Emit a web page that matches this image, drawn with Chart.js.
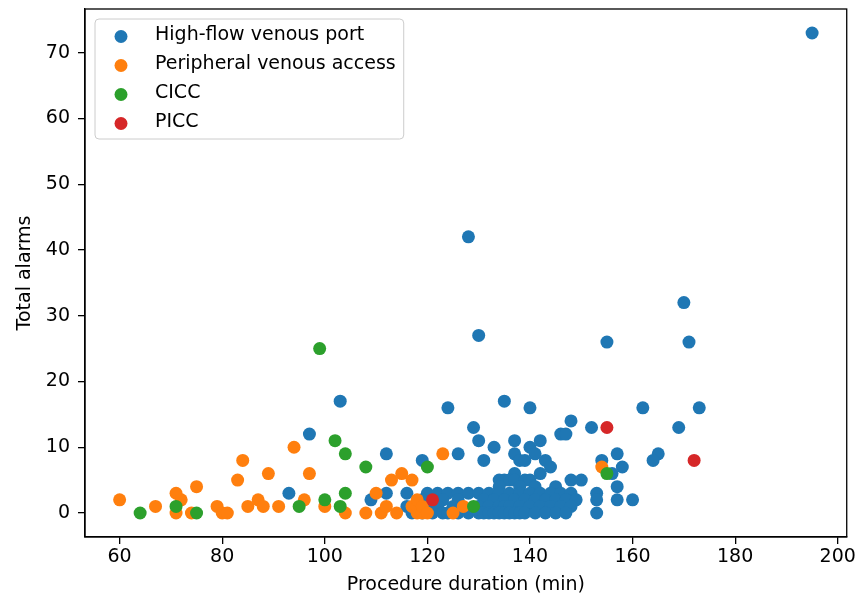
<!DOCTYPE html>
<html>
<head>
<meta charset="utf-8">
<script src="https://cdn.jsdelivr.net/npm/chart.js@4.4.1/dist/chart.umd.min.js"></script>
<style>
  html, body { margin: 0; padding: 0; background: #fff; }
  #wrap { width: 858px; height: 597px; }
</style>
</head>
<body>
<div id="wrap"><canvas id="scatterChart" width="858" height="597"></canvas></div>
<script>
// --- DATA ---
const CATEGORIES = ['High-flow venous port', 'Peripheral venous access', 'CICC', 'PICC'];
const COLORS = ['#1f77b4', '#ff7f0e', '#2ca02c', '#d62728'];

const X_TICKS = [60, 80, 100, 120, 140, 160, 180, 200];
const Y_TICKS = [0, 10, 20, 30, 40, 50, 60, 70];

// high-flow venous port (one line per alarm level)
const portDuration = [
  195, 128, 170, 130, 155, 171,
  103, 135, 124, 140, 162, 173, 148, 129, 152, 169,
  97, 146, 147, 130, 137, 142, 133, 140,
  112, 126, 137, 141, 157, 165,
  119, 131, 138, 139, 143, 154, 164,
  144, 158, 137, 142, 156,
  134, 135, 136, 137, 139, 140, 148, 150,
  134, 138, 141, 145, 157,
  93, 112, 116, 120, 122, 124, 126, 128, 130, 132, 134, 136, 138, 140, 142, 144, 146, 148, 153,
  109, 119, 123, 126, 131, 133, 135, 137, 139, 141, 143, 145, 147, 149, 153, 157, 160,
  116, 120, 122, 125, 130, 132, 134, 135, 136, 138, 140, 142, 144, 146, 148,
  117, 119, 121, 123, 124, 126, 128, 130, 131, 132, 133, 134, 135, 136, 137, 138, 139, 141, 143, 145, 147, 153
];
const portAlarms = [
  73, 42, 32, 27, 26, 26,
  17, 17, 16, 16, 16, 16, 14, 13, 13, 13,
  12, 12, 12, 11, 11, 11, 10, 10,
  9, 9, 9, 9, 9, 9,
  8, 8, 8, 8, 8, 8, 8,
  7, 7, 6, 6, 6,
  5, 5, 5, 5, 5, 5, 5, 5,
  4, 4, 4, 4, 4,
  3, 3, 3, 3, 3, 3, 3, 3, 3, 3, 3, 3, 3, 3, 3, 3, 3, 3, 3,
  2, 2, 2, 2, 2, 2, 2, 2, 2, 2, 2, 2, 2, 2, 2, 2, 2,
  1, 1, 1, 1, 1, 1, 1, 1, 1, 1, 1, 1, 1, 1, 1,
  0, 0, 0, 0, 0, 0, 0, 0, 0, 0, 0, 0, 0, 0, 0, 0, 0, 0, 0, 0, 0, 0
];

// peripheral venous access
const periphDuration = [60, 67, 71, 71, 72, 74, 75, 79, 80, 81, 83, 84, 85, 87, 88, 89, 91, 94, 96, 97,
  100, 104, 108, 110, 111, 112, 113, 114, 115, 117, 117, 118, 118, 118, 119, 119, 120, 123, 125, 127, 154];
const periphAlarms = [2, 1, 3, 0, 2, 0, 4, 1, 0, 0, 5, 8, 1, 2, 1, 6, 1, 10, 2, 6,
  1, 0, 0, 3, 0, 1, 5, 0, 6, 5, 1, 0, 1, 2, 0, 1, 0, 9, 0, 1, 7];

// CICC
const ciccDuration = [64, 71, 75, 95, 99, 100, 102, 103, 104, 104, 108, 120, 129, 155];
const ciccAlarms = [0, 1, 0, 1, 25, 2, 11, 1, 9, 3, 7, 7, 1, 6];

// PICC
const piccDuration = [121, 155, 172];
const piccAlarms = [2, 13, 8];

const SERIES = [
  [portDuration, portAlarms],
  [periphDuration, periphAlarms],
  [ciccDuration, ciccAlarms],
  [piccDuration, piccAlarms]
];

// --- THEME ---
const FONT = "'DejaVu Sans', sans-serif";
const FONT_SIZE = 19;
Chart.defaults.font.family = FONT;
Chart.defaults.font.size = FONT_SIZE;
Chart.defaults.color = '#000';

// axes frame (top/right spines) + matplotlib-like legend box
const frameAndLegend = {
  id: 'frameAndLegend',
  afterDraw(chart) {
    const { ctx, chartArea: a } = chart;
    ctx.save();
    ctx.strokeStyle = '#000';
    ctx.lineWidth = 1.3;
    ctx.strokeRect(a.left, a.top, a.right - a.left, a.bottom - a.top);

    ctx.font = FONT_SIZE + 'px ' + FONT;
    const textW = Math.max(...CATEGORIES.map(c => ctx.measureText(c).width));
    const bx = a.left + 10, by = a.top + 10;
    const bw = 60 + textW + 8, bh = 120;
    ctx.beginPath();
    ctx.roundRect(bx, by, bw, bh, 4);
    ctx.fillStyle = 'rgba(255,255,255,0.8)';
    ctx.fill();
    ctx.strokeStyle = '#cccccc';
    ctx.lineWidth = 1;
    ctx.stroke();

    ctx.textBaseline = 'middle';
    CATEGORIES.forEach((label, i) => {
      const ry = by + 17.5 + i * 29;
      ctx.beginPath();
      ctx.arc(bx + 26, ry, 6.5, 0, Math.PI * 2);
      ctx.fillStyle = COLORS[i];
      ctx.fill();
      ctx.fillStyle = '#000';
      ctx.fillText(label, bx + 60, ry - 1);
    });
    ctx.restore();
  }
};

// --- RENDER ---
function renderScatter() {
  const ctx = document.getElementById('scatterChart');
  const datasets = SERIES.map(([xs, ys], i) => ({
    label: CATEGORIES[i],
    data: xs.map((x, k) => ({ x: x, y: ys[k] })),
    backgroundColor: COLORS[i],
    borderWidth: 0,
    pointRadius: 6.5,
    pointHoverRadius: 6.5,
    order: SERIES.length - i
  }));

  new Chart(ctx, {
    type: 'scatter',
    data: { datasets: datasets },
    options: {
      responsive: false,
      animation: false,
      devicePixelRatio: 1,
      layout: { padding: { top: 9, right: 10, left: 0, bottom: 0 } },
      plugins: { legend: { display: false }, tooltip: { enabled: false } },
      scales: {
        x: {
          type: 'linear', min: 53.25, max: 201.75,
          afterBuildTicks: s => { s.ticks = X_TICKS.map(v => ({ value: v })); },
          afterFit: s => { s.height = 60; },
          grid: { drawOnChartArea: false, tickLength: 7, color: '#000', lineWidth: 1.3 },
          border: { display: true, color: '#000', width: 1.3 },
          ticks: { padding: 2, maxRotation: 0 },
          title: { display: true, text: 'Procedure duration (min)', padding: { top: 0, bottom: 1 } }
        },
        y: {
          type: 'linear', min: -3.65, max: 76.65,
          afterBuildTicks: s => { s.ticks = Y_TICKS.map(v => ({ value: v })); },
          afterFit: s => { s.width = 85; s.paddingTop = 0; s.paddingBottom = 0; },
          grid: { drawOnChartArea: false, tickLength: 7, color: '#000', lineWidth: 1.3 },
          border: { display: true, color: '#000', width: 1.3 },
          ticks: { padding: 8 },
          title: { display: true, text: 'Total alarms', padding: { top: 14, bottom: 0 } }
        }
      }
    },
    plugins: [frameAndLegend]
  });
}

renderScatter();
</script>
</body>
</html>
